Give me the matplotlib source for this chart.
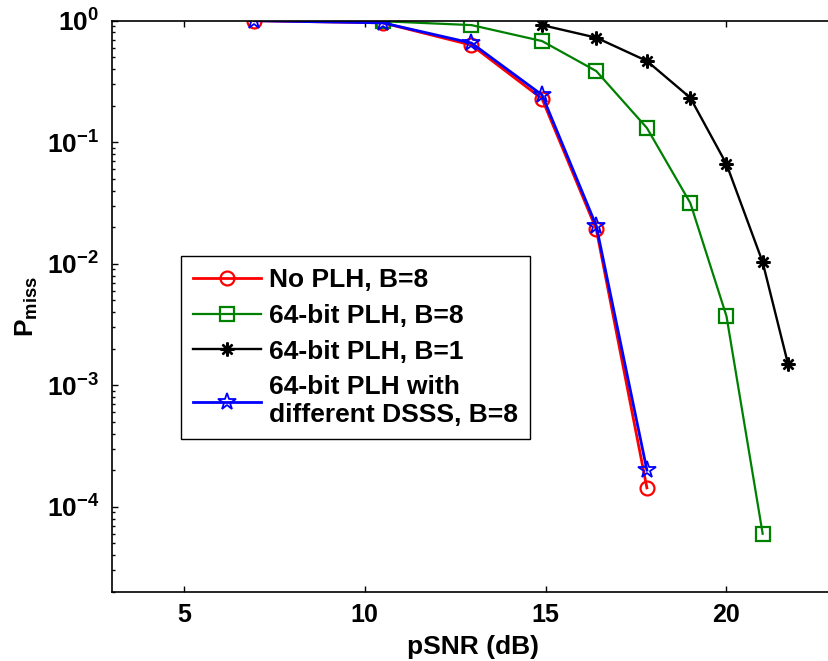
import matplotlib
matplotlib.use('Agg')
import matplotlib.pyplot as plt
import numpy as np
from matplotlib.ticker import FixedLocator, FuncFormatter, NullFormatter

plt.rcParams['font.family'] = 'Liberation Sans'
plt.rcParams['font.weight'] = 'bold'
plt.rcParams['mathtext.fontset'] = 'custom'
plt.rcParams['mathtext.rm'] = 'Liberation Sans:bold'
plt.rcParams['mathtext.it'] = 'Liberation Sans:bold'
plt.rcParams['mathtext.bf'] = 'Liberation Sans:bold'
plt.rcParams['mathtext.default'] = 'rm'

# No PLH, B=8
snr_noplh = [6.95, 10.5, 12.95, 14.9, 16.4, 17.8]
pmiss_noplh = [1.0, 0.96, 0.63, 0.228, 0.0192, 1.43e-4]
# 64-bit PLH, B=8
snr_plh8 = [10.5, 12.95, 14.9, 16.4, 17.8, 19.0, 20.0, 21.0]
pmiss_plh8 = [0.99, 0.92, 0.68, 0.385, 0.131, 0.0316, 0.0037, 6.0e-5]
# 64-bit PLH, B=1
snr_plh1 = [14.9, 16.4, 17.8, 19.0, 20.0, 21.0, 21.7]
pmiss_plh1 = [0.92, 0.725, 0.466, 0.232, 0.066, 0.0103, 1.5e-3]
# 64-bit PLH with different DSSS, B=8
snr_dsss = [6.95, 10.5, 12.95, 14.9, 16.4, 17.8]
pmiss_dsss = [1.0, 0.96, 0.655, 0.245, 0.0205, 2.0e-4]

labels = ['No PLH, B=8', '64-bit PLH, B=8', '64-bit PLH, B=1',
          '64-bit PLH with\ndifferent DSSS, B=8']

fig = plt.figure(figsize=(8.29, 6.61), dpi=100)
ax = fig.add_axes([111.6/829, 1-591.7/661, (835-111.6)/829, (591.7-20.7)/661])

ax.plot(snr_noplh, pmiss_noplh, '-o', color='red', lw=2, ms=10,
        mfc='none', mew=1.6, label=labels[0])
ax.plot(snr_plh8, pmiss_plh8, '-s', color='#008000', lw=1.6, ms=10,
        mfc='none', mew=1.6, label=labels[1])
ax.plot(snr_plh1, pmiss_plh1, '-', marker=(8, 2, 0), color='black', lw=1.7,
        ms=10, mew=1.7, label=labels[2])
ax.plot(snr_dsss, pmiss_dsss, '-*', color='blue', lw=2, ms=13,
        mfc='none', mew=1.3, label=labels[3])

ax.set_yscale('log')
ax.set_xlim(3, 23)
ax.set_ylim(2e-5, 1)
ax.xaxis.set_major_locator(FixedLocator([5, 10, 15, 20]))
ax.yaxis.set_major_locator(FixedLocator([1e-4, 1e-3, 1e-2, 1e-1, 1]))
minors = [m * 10.0**e for e in range(-5, 0) for m in range(2, 10)]
ax.yaxis.set_minor_locator(FixedLocator(minors))
ax.yaxis.set_major_formatter(FuncFormatter(lambda v, _: r'$10^{%d}$' % round(np.log10(v))))
ax.yaxis.set_minor_formatter(NullFormatter())

ax.tick_params(which='both', direction='in', top=True, right=True, width=1)
ax.tick_params(which='major', length=4.5)
ax.tick_params(which='minor', length=2.4)
ax.tick_params(axis='x', labelsize=18, pad=8)
ax.tick_params(axis='y', labelsize=19, pad=9)
for s in ax.spines.values():
    s.set_linewidth(1.2)

ax.set_xlabel('pSNR (dB)', fontsize=19, fontweight='bold', labelpad=6)
ax.set_ylabel(r'$P_{miss}$', fontsize=19, labelpad=5)

leg = ax.legend(loc='upper left', bbox_to_anchor=(180.7/829, 1-256/661),
                bbox_transform=fig.transFigure, borderaxespad=0, fontsize=19,
                fancybox=False, edgecolor='black', framealpha=1,
                handlelength=2.6, handletextpad=0.3, labelspacing=0.45,
                borderpad=0.45)
leg.get_frame().set_linewidth(1.0)

fig.savefig('out.png', dpi=100)
